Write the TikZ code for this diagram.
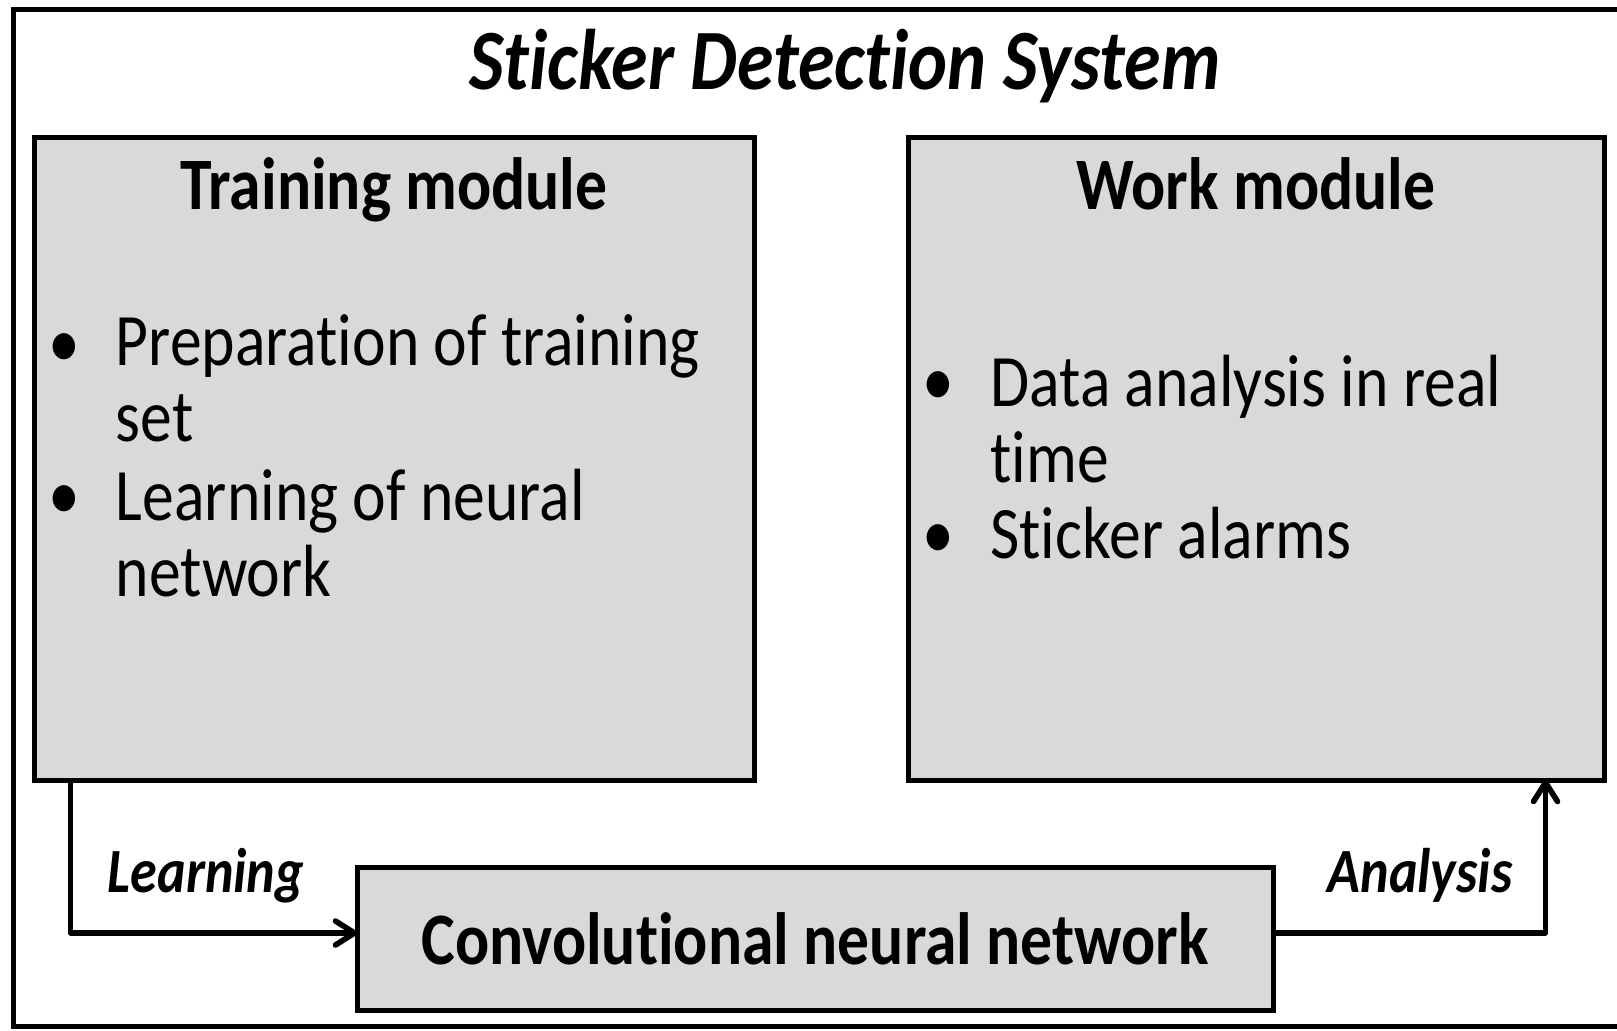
\documentclass[tikz,border=0pt]{standalone}
\usepackage{fontspec}
\setmainfont{Carlito}[FakeStretch=0.86,Ligatures=NoCommon]
\definecolor{boxgray}{HTML}{D9D9D9}
\begin{document}
\begin{tikzpicture}[x=0.5pt,y=-0.5pt,
  frame/.style={line width=2.5pt},
  box/.style={draw, line width=2.5pt, fill=boxgray, inner sep=0pt},
  conn/.style={line width=2.8pt, line join=round, line cap=round},
  titletxt/.style={font=\fontsize{43}{50}\selectfont\bfseries\itshape, anchor=base, inner sep=0pt},
  heading/.style={font=\fontsize{37}{44}\selectfont\bfseries, anchor=base, inner sep=0pt},
  bul/.style={font=\fontsize{37}{38}\selectfont, anchor=base, inner sep=0pt},
  itemtxt/.style={font=\fontsize{37}{38}\selectfont, anchor=base west, align=left, inner sep=0pt},
  lbl/.style={font=\fontsize{31.5}{38}\selectfont\bfseries\itshape, anchor=base, inner sep=0pt}]
\useasboundingbox (0,0) rectangle (1617,1030);
% outer frame
\draw[frame] (1617,9) -- (13,9) -- (13,1026) -- (1617,1026);
\node[titletxt] (title) at (845,89) {Sticker Detection System};
% boxes
\node[box, minimum width=360pt, minimum height=321.5pt] (tr) at (394,458.5) {};
\node[box, minimum width=348pt, minimum height=321.5pt] (wk) at (1256,458.5) {};
\node[box, minimum width=458pt, minimum height=71.5pt, font=\fontsize{37}{44}\selectfont\bfseries] (cnn) at (815,938.5) {Convolutional neural network};
% headings
\node[heading] (trh) at (394,209) {Training module};
\node[heading] (wkh) at (1256,209) {Work module};
% training bullets (multi-line nodes: base = last line)
\node[bul] (b1) at (64,367) {•};
\node[itemtxt] (t1) at (115.5,441) {Preparation of training\\set};
\node[bul] (b2) at (64,519) {•};
\node[itemtxt] (t2) at (115.5,596) {Learning of neural\\network};
% work bullets
\node[bul] (b3) at (938,405) {•};
\node[itemtxt] (t3) at (990,482) {Data analysis in real\\time};
\node[bul] (b4) at (938,558) {•};
\node[itemtxt] (t4) at (990,558) {Sticker alarms};
% connectors
\coordinate (cin) at ([yshift=2.75pt]cnn.west);
\coordinate (cout) at ([yshift=2.75pt]cnn.east);
\coordinate (win) at ([xshift=-30.5pt]wk.south east);
\draw[conn] ([xshift=19.5pt]tr.south west) |- (cin);
\draw[conn] ([xshift=-9.5pt,yshift=6pt]cin) -- (cin) -- ([xshift=-9.5pt,yshift=-6pt]cin);
\draw[conn] (cout) -| (win);
\draw[conn] ([xshift=-6pt,yshift=-9.5pt]win) -- (win) -- ([xshift=6pt,yshift=-9.5pt]win);
\node[lbl] (ll) at (206,892) {Learning};
\node[lbl] (al) at (1420,892) {Analysis};
\end{tikzpicture}
\end{document}
